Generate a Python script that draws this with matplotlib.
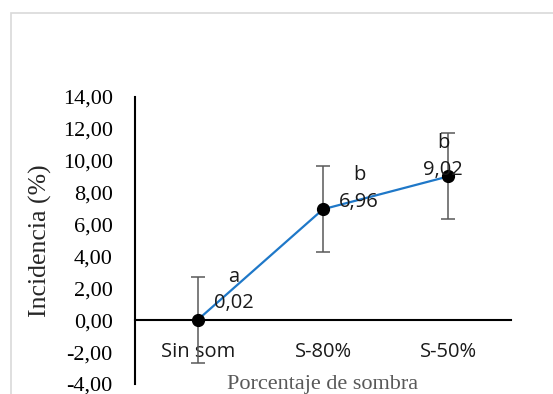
import matplotlib
matplotlib.use("Agg")
import matplotlib.pyplot as plt
from matplotlib.patches import Rectangle

categorias = ["Sin som", "S-80%", "S-50%"]
incidencia = [0.02, 6.96, 9.02]
error = [2.7, 2.7, 2.7]
letras = ["a", "b", "b"]
etiquetas = ["0,02", "6,96", "9,02"]
yticks = [-4, -2, 0, 2, 4, 6, 8, 10, 12, 14]

# desplazamiento de las etiquetas (pixeles)
desp = [(36, 30), (36, 21), (-5, 20)]

fig = plt.figure(figsize=(5.53, 3.94), dpi=100)
fig.patches.append(Rectangle((10.5/553, -0.1), 1.2, (394-13.5)/394 + 0.1,
                             transform=fig.transFigure, fill=False,
                             edgecolor="#d9d9d9", linewidth=1.2))
ax = fig.add_axes([135/553, 1-384/394, 376/553, 287/394])

# el eje x cruza en cero (antes de dar formato a los ticks)
for s in ["top", "right"]:
    ax.spines[s].set_visible(False)
ax.spines["bottom"].set_position(("data", 0))
ax.spines["bottom"].set_linewidth(1.5)
ax.spines["left"].set_linewidth(1.5)

x = list(range(len(categorias)))
ax.errorbar(x, incidencia, yerr=error, fmt="none", ecolor="#595959",
            elinewidth=1.1, capsize=5, capthick=1.1, zorder=2)
ax.plot(x, incidencia, "-", color="#1F78C8", linewidth=1.6, zorder=3)
ax.plot(x, incidencia, "o", color="black", markersize=8.5, zorder=4)

for xi, yi, le, et, d in zip(x, incidencia, letras, etiquetas, desp):
    ax.annotate(le + "\n" + et, (xi, yi), xytext=d, textcoords="offset pixels",
                ha="center", va="center", fontsize=14.5, family="Open Sans",
                linespacing=1.45, color="#1a1a1a", zorder=5)

ax.set_xlim(-0.5, 2.5)
ax.set_ylim(-4, 14)
ax.set_yticks(yticks)
ax.set_yticklabels(["{:.2f}".format(v).replace(".", ",") for v in yticks])
ax.set_xticks(x)
ax.set_xticklabels(categorias)
ax.tick_params(axis="both", length=0)
ax.tick_params(axis="y", pad=16)
ax.tick_params(axis="x", pad=16)
for t in ax.get_yticklabels():
    t.set_fontfamily("Liberation Serif")
    t.set_fontsize(16)
for t in ax.get_xticklabels():
    t.set_fontfamily("Open Sans")
    t.set_fontsize(14.5)
    t.set_color("#1a1a1a")

ax.set_ylabel("Incidencia (%)", family="Liberation Serif", fontsize=18.5,
              color="#262626")
ax.yaxis.set_label_coords(-0.222, 0.5)
ax.set_xlabel("Porcentaje de sombra", family="Liberation Serif", fontsize=16,
              color="#595959")
ax.xaxis.set_label_coords(0.5, 0.033)

fig.savefig("out.png", dpi=100)
